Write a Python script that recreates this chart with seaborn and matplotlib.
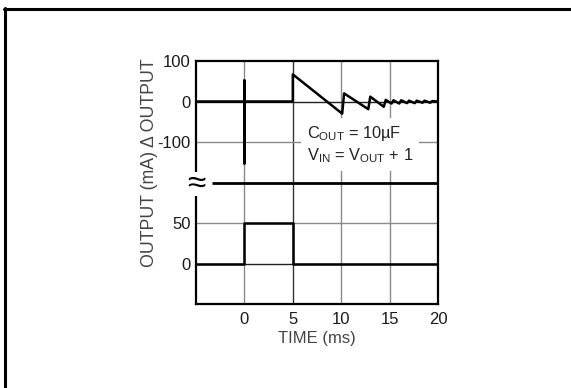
import matplotlib
matplotlib.use("Agg")
import matplotlib.pyplot as plt
import seaborn as sns
import numpy as np
from matplotlib.lines import Line2D

sns.set_style("white")
plt.rcParams['font.family'] = ['Liberation Sans', 'DejaVu Sans']
plt.rcParams['mathtext.default'] = 'regular'

# ---- data ----
# upper trace: change in output, time in ms
upper_time = [-5, 0, 0, 0, 0, 5, 5, 10.1, 10.3, 12.8, 13.0, 14.4, 14.6,
              15.2, 15.4, 16.0, 16.2, 16.8, 17.0, 17.6, 17.8, 18.4, 18.6, 19.2, 19.4, 20]
upper_val = [0, 0, 52, -153, 0, 0, 67, -30, 20, -19, 12, -13, 4,
             -5, 3, -5, 3, -4, 2, -4, 2, -3, 2, -3, 1, 0]
# lower trace: output current (mA)
lower_time = [-5, 0, 0, 5, 5, 20]
lower_val = [0, 0, 50, 50, 0, 0]

x_ticks = [0, 5, 10, 15, 20]
y_tick_labels = ["0", "50", "-100", "0", "100"]

# broken-axis mapping: upper panel 100 per grid row centred at row 5,
# lower panel 50 mA per grid row centred at row 1
def upper_map(v):
    return 5 + np.asarray(v, float) / 100.0

def lower_map(v):
    return 1 + np.asarray(v, float) / 50.0

W, H = 571, 388
fig = plt.figure(figsize=(W / 100, H / 100), dpi=100)
ax = fig.add_axes([196 / W, 1 - 304 / H, (438 - 196) / W, (304 - 61) / H])

ax.set_xlim(-5, 20)
ax.set_ylim(0, 6)

grid_c = "#8a8a8a"
for xv in [0, 10, 15]:
    ax.axvline(xv, color=grid_c, lw=1.0, zorder=1)
ax.axvline(5, color="#333333", lw=1.0, zorder=1)
for yv in [2, 4]:
    ax.axhline(yv, color=grid_c, lw=1.0, zorder=1)
for yv in [1, 5]:
    ax.axhline(yv, color="#222222", lw=1.0, zorder=1)

# break line
ax.plot([-3.35, 20], [3, 3], color="black", lw=2.0, zorder=3, solid_capstyle="butt")
ax.text(-5, 2.96, "\u2248", ha="center", va="center", fontsize=24, color="black",
        zorder=6, clip_on=False, family="Liberation Sans",
        bbox=dict(facecolor="white", edgecolor="none", pad=-2.5))

sns.lineplot(x=upper_time, y=upper_map(upper_val), sort=False, estimator=None,
             color="black", lw=1.8, ax=ax, zorder=4)
sns.lineplot(x=lower_time, y=lower_map(lower_val), sort=False, estimator=None,
             color="black", lw=1.8, ax=ax, zorder=4)

# annotation box
ax.text(6.45, 3.93,
        "C$_{OUT}$ = 10\u00b5F\nV$_{IN}$ = V$_{OUT}$ + 1",
        ha="left", va="center", fontsize=11.8, color="#222222", linespacing=1.25,
        zorder=3.5,
        bbox=dict(facecolor="white", edgecolor="none", pad=4))

ax.set_xticks(x_ticks)
ax.set_xticklabels([str(t) for t in x_ticks])
ax.set_yticks([1, 2, 4, 5, 6])
ax.set_yticklabels(y_tick_labels)
ax.tick_params(axis="x", length=0, labelsize=12, colors="#1a1a1a", pad=6)
ax.tick_params(axis="y", length=0, labelsize=12, colors="#1a1a1a", pad=4)
ax.set_xlabel("TIME (ms)", fontsize=12, color="#444444", labelpad=3)
ax.set_ylabel("")

for s in ax.spines.values():
    s.set_visible(True)
    s.set_color("black")
    s.set_linewidth(1.6)

fig.text(149 / W, 1 - 163 / H, "OUTPUT (mA) \u0394 OUTPUT", rotation=90,
         ha="center", va="center", fontsize=12.8, color="#444444")

# outer frame (top and left only visible)
fig.add_artist(Line2D([4 / W, 1], [1 - 9 / H, 1 - 9 / H], transform=fig.transFigure,
                      color="black", lw=2.2))
fig.add_artist(Line2D([5 / W, 5 / W], [0, 1 - 8 / H], transform=fig.transFigure,
                      color="black", lw=2.2))

fig.savefig("out.png", dpi=100)
